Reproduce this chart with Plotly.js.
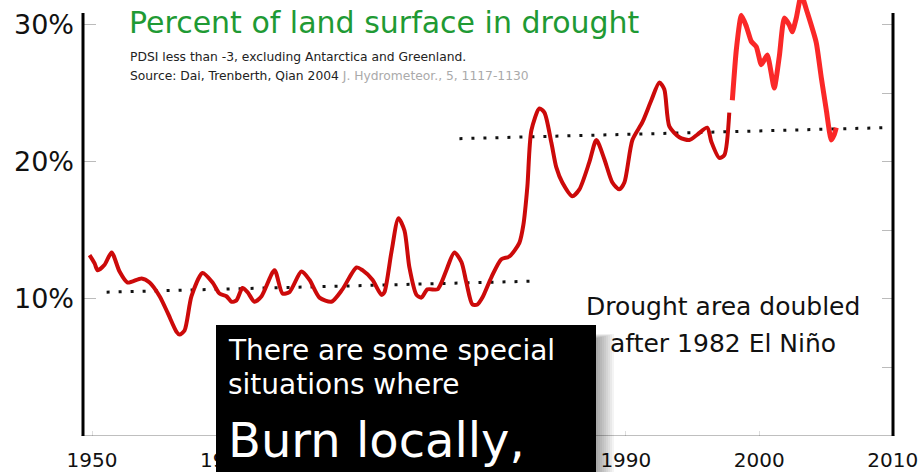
<!DOCTYPE html>
<html>
<head>
<meta charset="utf-8">
<script src="https://cdn.plot.ly/plotly-3.0.1.min.js"></script>
<style>html,body{margin:0;padding:0;background:#fff;}#chart{width:919px;height:472px;}</style>
</head>
<body>
<div id="chart"></div>
<script>
// Observed drought area (dark red), years and percent values
const obsYears = [1949.81,1950.19,1950.41,1950.94,1951.46,1952.06,1952.66,1953.71,1954.31,1955.06,1955.66,1956.33,1956.55,1956.93,1957.45,1958.28,1959.03,1959.55,1960.07,1960.45,1960.82,1961.27,1961.65,1962.17,1962.70,1963.67,1964.27,1964.79,1965.69,1966.29,1967.04,1967.94,1968.76,1969.81,1970.26,1971.01,1971.69,1971.91,1972.43,1972.96,1973.41,1973.78,1974.31,1974.68,1975.13,1975.88,1976.18,1976.55,1977.15,1977.68,1978.05,1978.50,1978.88,1979.25,1979.93,1980.67,1981.27,1982.02,1982.32,1982.62,1982.92,1983.52,1983.90,1984.42,1984.79,1985.24,1985.99,1986.52,1987.27,1987.79,1988.39,1988.99,1989.51,1989.89,1990.49,1991.24,1991.91,1992.51,1992.88,1993.26,1994.01,1994.76,1995.36,1996.10,1996.40,1997.00,1997.38,1997.75];
const obsPct = [13.2,12.6,12.1,12.5,13.4,12.0,11.2,11.5,11.2,10.2,9.0,7.6,7.4,7.7,10.2,11.9,11.2,10.4,10.2,9.8,9.9,10.8,10.5,9.8,10.2,12.1,10.4,10.5,12.0,11.4,10.1,9.8,10.7,12.3,12.1,11.4,10.3,10.5,13.4,15.9,15.0,12.3,10.3,10.1,10.7,10.7,11.2,12.1,13.4,12.7,11.2,9.6,9.6,10.1,11.6,12.9,13.1,14.1,15.4,18.2,22.3,23.9,23.6,21.4,19.6,18.5,17.5,18.0,20.0,21.6,20.2,18.5,18.0,18.5,21.6,22.9,24.5,25.8,25.3,22.6,21.8,21.6,22.0,22.5,21.5,20.3,20.5,23.6];

// Later hand-drawn extension (bright red)
const extYears = [1997.98,1998.28,1998.65,1999.03,1999.40,1999.78,2000.15,2000.60,2001.12,2001.50,2001.87,2002.25,2002.47,2002.77,2003.15,2003.60,2004.27,2004.64,2005.02,2005.39,2005.62,2005.77];
const extPct = [24.5,28.2,30.7,29.9,28.8,28.4,27.1,27.8,25.4,27.7,30.5,30.0,29.5,30.5,32.2,30.9,28.7,26.2,23.8,21.6,22.0,22.5];

// Dotted average lines
const before1982Years = [1951.09, 1982.99];
const before1982Pct = [10.5, 11.3];
const after1982Years = [1977.53, 2009.36];
const after1982Pct = [21.7, 22.5];

// Axis ticks (1970 and 1980 labels are hidden behind the black box in the original)
const xTickVals = [1950, 1960, 1970, 1980, 1990, 2000, 2010];
const xTickText = ['1950', '1960', '', '', '1990', '2000', '2010'];
const yTickVals = [10, 20, 30];
const yTickText = ['10%', '20%', '30%'];
const yRightTickVals = [5, 10, 15, 20, 25, 30];

// pixel -> paper helpers (plot area: x 83..893, y 0..436)
const PL = 83, PR = 893, PB = 436, PT = 0;
const px = v => (v - PL) / (PR - PL);
const py = v => (PB - v) / (PB - PT);

const FONT = 'DejaVu Sans, Noto Sans, sans-serif';

const traces = [
  {x: before1982Years, y: before1982Pct, mode: 'lines', line: {color: '#111', width: 3, dash: '3px,9px'}, hoverinfo: 'skip'},
  {x: after1982Years, y: after1982Pct, mode: 'lines', line: {color: '#111', width: 3, dash: '3px,9px'}, hoverinfo: 'skip'},
  {x: obsYears, y: obsPct, mode: 'lines', line: {color: '#cc0a0a', width: 4, shape: 'spline', smoothing: 0.7}},
  {x: extYears, y: extPct, mode: 'lines', line: {color: 'rgb(250,28,28)', width: 5, shape: 'spline', smoothing: 0.5}, opacity: 0.95},
  {x: [2000], y: [0], yaxis: 'y2', mode: 'markers', marker: {opacity: 0}, hoverinfo: 'skip'}
];

// soft shadow to the right of the black box
const shadowShapes = [];
const shadowSteps = 9;
for (let i = 0; i < shadowSteps; i++) {
  shadowShapes.push({
    type: 'rect', xref: 'paper', yref: 'paper',
    x0: px(596), x1: px(598 + i * 2), y0: -0.2, y1: py(338 - i * 0.5),
    fillcolor: 'rgba(0,0,0,0.045)', line: {width: 0}, layer: 'above'
  });
}

const layout = {
  width: 919, height: 472,
  margin: {l: PL, r: 919 - PR, t: PT, b: 472 - PB},
  paper_bgcolor: '#ffffff', plot_bgcolor: '#ffffff',
  showlegend: false,
  font: {family: FONT, color: '#111'},
  xaxis: {
    range: [1949.32, 2010.02], tickvals: xTickVals, ticktext: xTickText,
    ticks: 'inside', ticklen: 5, tickcolor: '#dddddd', tickwidth: 1,
    showgrid: false, zeroline: false, showline: false,
    tickfont: {family: FONT, size: 20, color: '#111'}, ticklabelstandoff: 10
  },
  yaxis: {
    range: [0, 31.82], tickvals: yTickVals, ticktext: yTickText,
    ticks: 'inside', ticklen: 13, tickcolor: '#bbbbbb', tickwidth: 1,
    showgrid: false, zeroline: false, showline: false,
    tickfont: {family: FONT, size: 27, color: '#111'}, ticklabelstandoff: 8
  },
  yaxis2: {
    range: [0, 31.82], overlaying: 'y', side: 'right', tickvals: yRightTickVals,
    ticks: 'inside', ticklen: 11, tickcolor: '#bbbbbb', tickwidth: 1,
    showticklabels: false, showgrid: false, zeroline: false, showline: false
  },
  shapes: [
    {type: 'line', xref: 'paper', yref: 'y', x0: 0, x1: 0, y0: -0.1, y1: 30.88, line: {color: '#000', width: 3}},
    {type: 'line', xref: 'paper', yref: 'y', x0: 1, x1: 1, y0: -0.1, y1: 30.88, line: {color: '#000', width: 3}},
    {type: 'line', xref: 'paper', yref: 'y', x0: -0.002, x1: 1.002, y0: -0.1, y1: -0.1, line: {color: '#000', width: 3}}
  ].concat(shadowShapes, [
    {type: 'rect', xref: 'paper', yref: 'paper', x0: px(216), x1: px(596), y0: -0.2, y1: py(325), fillcolor: '#000', line: {width: 0}, layer: 'above'}
  ]),
  annotations: [
    {xref: 'paper', yref: 'paper', x: px(127), y: py(22), xanchor: 'left', yanchor: 'middle', showarrow: false,
     text: 'Percent of land surface in drought', font: {family: FONT, size: 30, color: '#1f9a34'}},
    {xref: 'paper', yref: 'paper', x: px(128), y: py(57), xanchor: 'left', yanchor: 'middle', showarrow: false,
     text: 'PDSI less than -3, excluding Antarctica and Greenland.', font: {family: FONT, size: 12.3, color: '#222'}},
    {xref: 'paper', yref: 'paper', x: px(128), y: py(76), xanchor: 'left', yanchor: 'middle', showarrow: false,
     text: 'Source: Dai, Trenberth, Qian 2004 <span style="color:#aaaaaa">J. Hydrometeor., 5, 1117-1130</span>', font: {family: FONT, size: 12.3, color: '#222'}},
    {xref: 'paper', yref: 'paper', x: px(723), y: py(306), xanchor: 'center', yanchor: 'middle', showarrow: false,
     text: 'Drought area doubled', font: {family: FONT, size: 25, color: '#111'}},
    {xref: 'paper', yref: 'paper', x: px(723), y: py(343), xanchor: 'center', yanchor: 'middle', showarrow: false,
     text: 'after 1982 El Niño', font: {family: FONT, size: 25, color: '#111'}},
    {xref: 'paper', yref: 'paper', x: px(226), y: py(350), xanchor: 'left', yanchor: 'middle', showarrow: false,
     text: 'There are some special', font: {family: FONT, size: 28, color: '#fff'}},
    {xref: 'paper', yref: 'paper', x: px(226), y: py(384), xanchor: 'left', yanchor: 'middle', showarrow: false,
     text: 'situations where', font: {family: FONT, size: 28, color: '#fff'}},
    {xref: 'paper', yref: 'paper', x: px(226), y: py(440), xanchor: 'left', yanchor: 'middle', showarrow: false,
     text: 'Burn locally,', font: {family: FONT, size: 48, color: '#fff'}}
  ]
};

Plotly.newPlot('chart', traces, layout, {displayModeBar: false, staticPlot: true});
</script>
</body>
</html>
